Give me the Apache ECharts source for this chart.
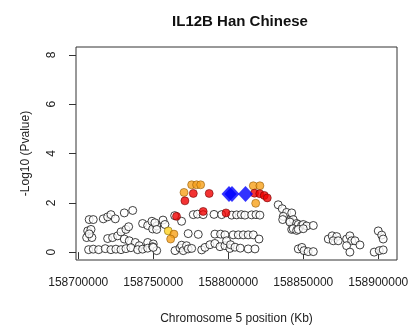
<!DOCTYPE html>
<html>
<head>
<meta charset="utf-8">
<script src="https://cdn.jsdelivr.net/npm/echarts@6/dist/echarts.min.js"></script>
<style>
  html, body { margin: 0; padding: 0; background: #fff; }
  #chart { width: 412px; height: 330px; }
</style>
</head>
<body>
<div id="chart"></div>
<script>
// positions in kb (chromosome 5), values are -log10(p)
const openPos = [
  158707.3, 158710.0, 158716.7, 158719.6, 158721.8, 158724.7, 158730.7, 158736.3,
  158706.3, 158708.5, 158705.6, 158709.1, 158707.3,
  158719.6, 158722.9, 158726.3, 158728.5, 158731.8, 158733.6, 158730.7, 158734.0, 158738.0, 158740.7,
  158742.9, 158746.3, 158749.1, 158749.6, 158746.3, 158750.0, 158752.3, 158756.5,
  158706.9, 158710.0, 158713.6, 158718.0, 158721.8, 158725.1, 158728.5, 158731.8, 158735.1, 158739.6, 158742.9, 158746.3, 158749.6,
  158751.1, 158757.8, 158752.3, 158768.9, 158764.3,
  158776.7, 158779.5, 158783.3, 158790.5, 158795.6, 158802.3, 158805.6, 158808.7, 158811.1, 158815.6, 158818.5, 158821.1,
  158773.3, 158780.0, 158791.1, 158794.9, 158797.8, 158803.3, 158806.7, 158810.0, 158813.3, 158816.7, 158820.5,
  158752.3, 158750.0, 158764.5, 158767.8, 158768.9, 158770.0, 158772.2, 158773.3, 158775.6, 158782.3, 158784.5,
  158787.8, 158791.1, 158794.5, 158797.8, 158798.9, 158801.1, 158801.5, 158804.5, 158808.0, 158813.3, 158817.8,
  158833.3, 158836.0, 158838.9, 158842.3, 158836.7, 158836.3, 158841.1, 158843.3, 158841.1, 158845.6, 158846.7,
  158848.9, 158850.0, 158852.3, 158856.7, 158842.3, 158843.3, 158845.6, 158846.7, 158850.0,
  158846.7, 158849.1, 158850.5, 158853.3, 158856.7,
  158866.7, 158869.3, 158872.3, 158870.0, 158873.3, 158878.9, 158881.1, 158882.3, 158878.9, 158884.5, 158887.8, 158881.1,
  158900.0, 158902.3, 158903.3, 158897.3, 158900.7, 158903.3
];
const openVal = [
  1.32, 1.32, 1.35, 1.43, 1.52, 1.35, 1.59, 1.69,
  0.86, 0.92, 0.59, 0.59, 0.74,
  0.55, 0.59, 0.66, 0.82, 0.92, 1.03, 0.53, 0.46, 0.39, 0.26,
  1.16, 1.08, 1.25, 0.94, 0.39, 0.33, 1.06, 1.30,
  0.10, 0.12, 0.10, 0.14, 0.10, 0.12, 0.10, 0.14, 0.18, 0.10, 0.12, 0.16, 0.22,
  1.19, 1.12, 0.92, 1.25, 1.48,
  1.52, 1.54, 1.52, 1.53, 1.52, 1.50, 1.51, 1.52, 1.50, 1.51, 1.52, 1.50,
  0.75, 0.72, 0.73, 0.73, 0.70, 0.70, 0.70, 0.70, 0.70, 0.70, 0.53,
  0.06, 0.19, 0.06, 0.17, 0.28, 0.06, 0.26, 0.13, 0.15, 0.09, 0.19,
  0.30, 0.35, 0.22, 0.26, 0.46, 0.15, 0.30, 0.20, 0.16, 0.13, 0.13,
  1.92, 1.76, 1.61, 1.59, 1.45, 1.32, 1.28, 1.32, 1.22, 1.16, 1.12,
  1.08, 1.12, 1.06, 1.08, 0.92, 0.95, 0.88, 0.92, 0.95,
  0.13, 0.19, 0.06, 0.02, 0.02,
  0.53, 0.66, 0.63, 0.46, 0.46, 0.53, 0.66, 0.46, 0.26, 0.46, 0.29, 0.00,
  0.86, 0.69, 0.53, 0.00, 0.06, 0.09
];
const orangePos = [158775.6, 158778.9, 158781.6, 158770.5, 158816.7, 158821.1, 158818.3, 158763.8, 158761.6];
const orangeVal = [2.73, 2.73, 2.73, 2.42, 2.69, 2.69, 1.98, 0.73, 0.53];
const yellowPos = [158760.0];
const yellowVal = [0.86];
const redPos = [158776.7, 158787.3, 158771.1, 158765.5, 158783.3, 158798.5, 158817.5, 158821.0, 158824.0, 158826.0];
const redVal = [2.38, 2.38, 2.08, 1.45, 1.65, 1.59, 2.39, 2.37, 2.30, 2.20];
const bluePos = [158800.5, 158802.5, 158811.5];
const blueVal = [2.36, 2.36, 2.36];

const xTicks = [158700000, 158750000, 158800000, 158850000, 158900000];
const yTicks = [0, 2, 4, 6, 8];

function pts(pos, val) {
  return pos.map((p, i) => [Math.round(p * 1000), val[i]]);
}

const font = 'Liberation Sans, Arial, sans-serif';
const chart = echarts.init(document.getElementById('chart'));

chart.setOption({
  animation: false,
  title: {
    text: 'IL12B Han Chinese',
    left: 235,
    top: 9,
    textAlign: 'center',
    textStyle: { fontFamily: font, fontSize: 15, fontWeight: 'bold', color: '#111' }
  },
  grid: {
    left: 76, right: 15, top: 47, bottom: 66,
    show: true, borderColor: '#333', borderWidth: 1, backgroundColor: '#fff'
  },
  xAxis: {
    type: 'value',
    min: 158698500,
    max: 158912500,
    name: 'Chromosome 5 position (Kb)',
    nameLocation: 'middle',
    nameGap: 53,
    nameTextStyle: { fontFamily: font, fontSize: 12, color: '#222' },
    axisLine: { show: false },
    splitLine: { show: false },
    axisTick: { show: true, length: 7, customValues: xTicks, lineStyle: { color: '#333' } },
    axisLabel: {
      customValues: xTicks, margin: 17, fontFamily: font, fontSize: 12, color: '#222',
      formatter: function (v) { return String(v) }
    }
  },
  yAxis: {
    type: 'value',
    min: -0.32,
    max: 8.32,
    name: '-Log10 (Pvalue)',
    nameLocation: 'middle',
    nameGap: 44,
    nameTextStyle: { fontFamily: font, fontSize: 12, color: '#222' },
    axisLine: { show: false },
    splitLine: { show: false },
    axisTick: { show: true, length: 7, customValues: yTicks, lineStyle: { color: '#333' } },
    axisLabel: { customValues: yTicks, rotate: 90, margin: 18, fontFamily: font, fontSize: 12, color: '#222' }
  },
  series: [
    {
      type: 'scatter', symbol: 'circle', symbolSize: 8,
      itemStyle: { color: '#fff', borderColor: '#111', borderWidth: 1 },
      data: pts(openPos, openVal)
    },
    {
      type: 'scatter', symbol: 'circle', symbolSize: 8,
      itemStyle: { color: '#FFD21F', borderColor: '#7a6000', borderWidth: 0.7 },
      data: pts(yellowPos, yellowVal)
    },
    {
      type: 'scatter', symbol: 'circle', symbolSize: 8,
      itemStyle: { color: '#F7A11A', borderColor: '#8a5200', borderWidth: 0.7 },
      data: pts(orangePos, orangeVal)
    },
    {
      type: 'scatter', symbol: 'circle', symbolSize: 8,
      itemStyle: { color: '#F00000', borderColor: '#600', borderWidth: 0.7 },
      data: pts(redPos, redVal)
    },
    {
      type: 'scatter', symbol: 'diamond', symbolSize: [15, 16],
      itemStyle: { color: '#0000FF' },
      data: pts(bluePos, blueVal)
    }
  ]
});
</script>
</body>
</html>
